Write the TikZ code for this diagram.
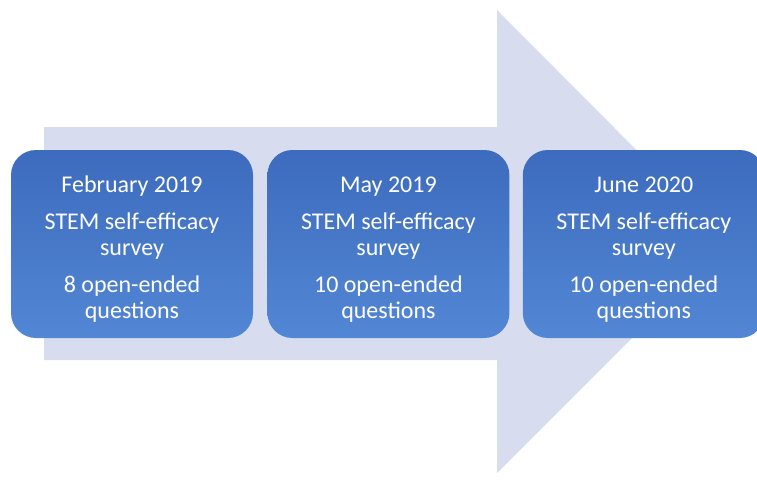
\documentclass[tikz,border=0pt]{standalone}
\usepackage{fontspec}
\setmainfont{Carlito}
\usetikzlibrary{positioning}
\definecolor{arrowfill}{RGB}{215,221,239}
\definecolor{boxtop}{RGB}{61,107,189}
\definecolor{boxbottom}{RGB}{82,135,213}
\newcommand{\topstrut}{\rule{0pt}{26pt}}

\begin{document}
\begin{tikzpicture}[x = 1pt, y = -1pt, node distance = 14pt,
    survey/.style = {rounded corners = 25pt, top color = boxtop, bottom color = boxbottom,
      minimum width = 242pt, minimum height = 188pt, inner sep = 0pt,
      text = white, align = center, font = \fontsize{24}{26}\selectfont}]
  \clip (0,0) rectangle (757,479);
  % big background arrow
  \fill[arrowfill] (44,127) -- (497,127) -- (497,10) -- (728,242)
    -- (497,473) -- (497,360) -- (44,360) -- cycle;
  % the three surveys
  \node[survey] (feb) at (132,244)
    {\topstrut February 2019\\[11pt]STEM self-efficacy\\survey\\[11pt]8 open-ended\\questions};
  \node[survey, right = of feb] (may)
    {\topstrut May 2019\\[11pt]STEM self-efficacy\\survey\\[11pt]10 open-ended\\questions};
  \node[survey, right = 13pt of may] (jun)
    {\topstrut June 2020\\[11pt]STEM self-efficacy\\survey\\[11pt]10 open-ended\\questions};
\end{tikzpicture}
\end{document}
